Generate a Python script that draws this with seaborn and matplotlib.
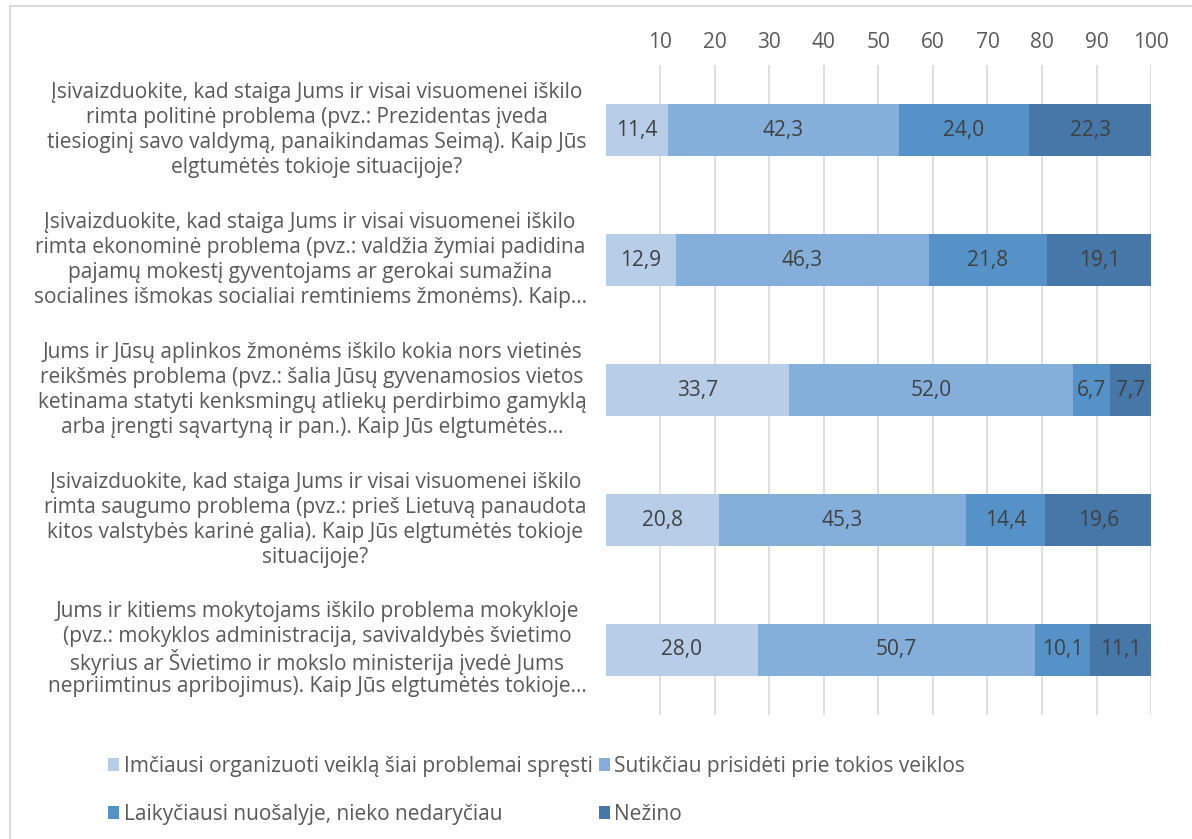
import matplotlib
matplotlib.use("Agg")
import matplotlib.pyplot as plt
import seaborn as sns
import pandas as pd
import numpy as np
from matplotlib.patches import Patch, Rectangle

questions = [
    "Įsivaizduokite, kad staiga Jums ir visai visuomenei iškilo\nrimta politinė problema (pvz.: Prezidentas įveda\ntiesioginį savo valdymą, panaikindamas Seimą). Kaip Jūs\nelgtumėtės tokioje situacijoje?",
    "Įsivaizduokite, kad staiga Jums ir visai visuomenei iškilo\nrimta ekonominė problema (pvz.: valdžia žymiai padidina\npajamų mokestį gyventojams ar gerokai sumažina\nsocialines išmokas socialiai remtiniems žmonėms). Kaip…",
    "Jums ir Jūsų aplinkos žmonėms iškilo kokia nors vietinės\nreikšmės problema (pvz.: šalia Jūsų gyvenamosios vietos\nketinama statyti kenksmingų atliekų perdirbimo gamyklą\narba įrengti sąvartyną ir pan.). Kaip Jūs elgtumėtės…",
    "Įsivaizduokite, kad staiga Jums ir visai visuomenei iškilo\nrimta saugumo problema (pvz.: prieš Lietuvą panaudota\nkitos valstybės karinė galia). Kaip Jūs elgtumėtės tokioje\nsituacijoje?",
    "Jums ir kitiems mokytojams iškilo problema mokykloje\n(pvz.: mokyklos administracija, savivaldybės švietimo\nskyrius ar Švietimo ir mokslo ministerija įvedė Jums\nnepriimtinus apribojimus). Kaip Jūs elgtumėtės tokioje…",
]
series_names = [
    "Imčiausi organizuoti veiklą šiai problemai spręsti",
    "Sutikčiau prisidėti prie tokios veiklos",
    "Laikyčiausi nuošalyje, nieko nedaryčiau",
    "Nežino",
]
organize = [11.4, 12.9, 33.7, 20.8, 28.0]
join = [42.3, 46.3, 52.0, 45.3, 50.7]
aside = [24.0, 21.8, 6.7, 14.4, 10.1]
unknown = [22.3, 19.1, 7.7, 19.6, 11.1]
x_ticks = [10, 20, 30, 40, 50, 60, 70, 80, 90, 100]

colors = ["#B7CDE8", "#84AFDB", "#5592C8", "#4577A8"]
text_col = "#595959"

sns.set_theme(style="white")
plt.rcParams["font.family"] = ["Open Sans", "DejaVu Sans"]

fig = plt.figure(figsize=(11.92, 8.39), dpi=100)
ax = fig.add_axes([0.508, 0.1478, 0.4577, 0.7747])

series = [organize, join, aside, unknown]
cum = np.zeros(len(questions))
cums = []
for s in series:
    cum = cum + np.array(s)
    cums.append(cum.copy())

for i in range(len(series) - 1, -1, -1):
    d = pd.DataFrame({"q": questions, "v": np.minimum(cums[i], 100)})
    sns.barplot(data=d, y="q", x="v", orient="h", color=colors[i],
                saturation=1, width=0.4, ax=ax, edgecolor="none")

for i, s in enumerate(series):
    starts = cums[i] - np.array(s)
    for j, v in enumerate(s):
        ax.text(starts[j] + v / 2, j, f"{v:.1f}".replace(".", ","),
                ha="center", va="center", fontsize=15, color="#404040")

ax.set_xlim(0, 100)
ax.set_ylim(len(questions) - 0.5, -0.5)
ax.set_xticks(x_ticks)
ax.xaxis.tick_top()
ax.tick_params(axis="x", length=0, pad=9, labelsize=15, labelcolor=text_col)
ax.tick_params(axis="y", length=0, labelleft=False)
ax.set_xlabel("")
ax.set_ylabel("")
ax.grid(axis="x", color="#D9D9D9", linewidth=1.2)
ax.set_axisbelow(True)
for sp in ax.spines.values():
    sp.set_visible(False)

# category labels: one text per line, block right-aligned, lines centred
renderer = fig.canvas.get_renderer()
ytrans = ax.get_yaxis_transform()
line_px = 25.0
gap_px = 19.0
pt = 72.0 / fig.dpi
for j, q in enumerate(questions):
    lines = q.split("\n")
    n = len(lines)
    texts = []
    for k, line in enumerate(lines):
        dy = ((n - 1) / 2 - k) * line_px + 3
        t = ax.annotate(line, xy=(0, j), xycoords=ytrans, xytext=(0, dy * pt),
                        textcoords="offset points", ha="center",
                        va="center_baseline", fontsize=15, color=text_col,
                        annotation_clip=False)
        texts.append((t, dy))
    maxw = max(t.get_window_extent(renderer).width for t, _ in texts)
    for t, dy in texts:
        t.xyann = (-(gap_px + maxw / 2) * pt, dy * pt)

handles = [Patch(facecolor=c, edgecolor="none") for c in colors]
order = [0, 2, 1, 3]
fig.legend([handles[k] for k in order], [series_names[k] for k in order],
           ncol=2, loc="upper left", bbox_to_anchor=(0.0906, 0.099),
           borderpad=0, borderaxespad=0, frameon=False, fontsize=15,
           labelcolor=text_col, handlelength=0.55, handleheight=0.55,
           handletextpad=0.2, columnspacing=0.3, labelspacing=1.3)

fig.patches.append(Rectangle((0.0084, -0.02), 1.1, 1.0128, transform=fig.transFigure,
                             fill=False, edgecolor="#D9D9D9", linewidth=1.5))

fig.savefig("out.png", dpi=100)
